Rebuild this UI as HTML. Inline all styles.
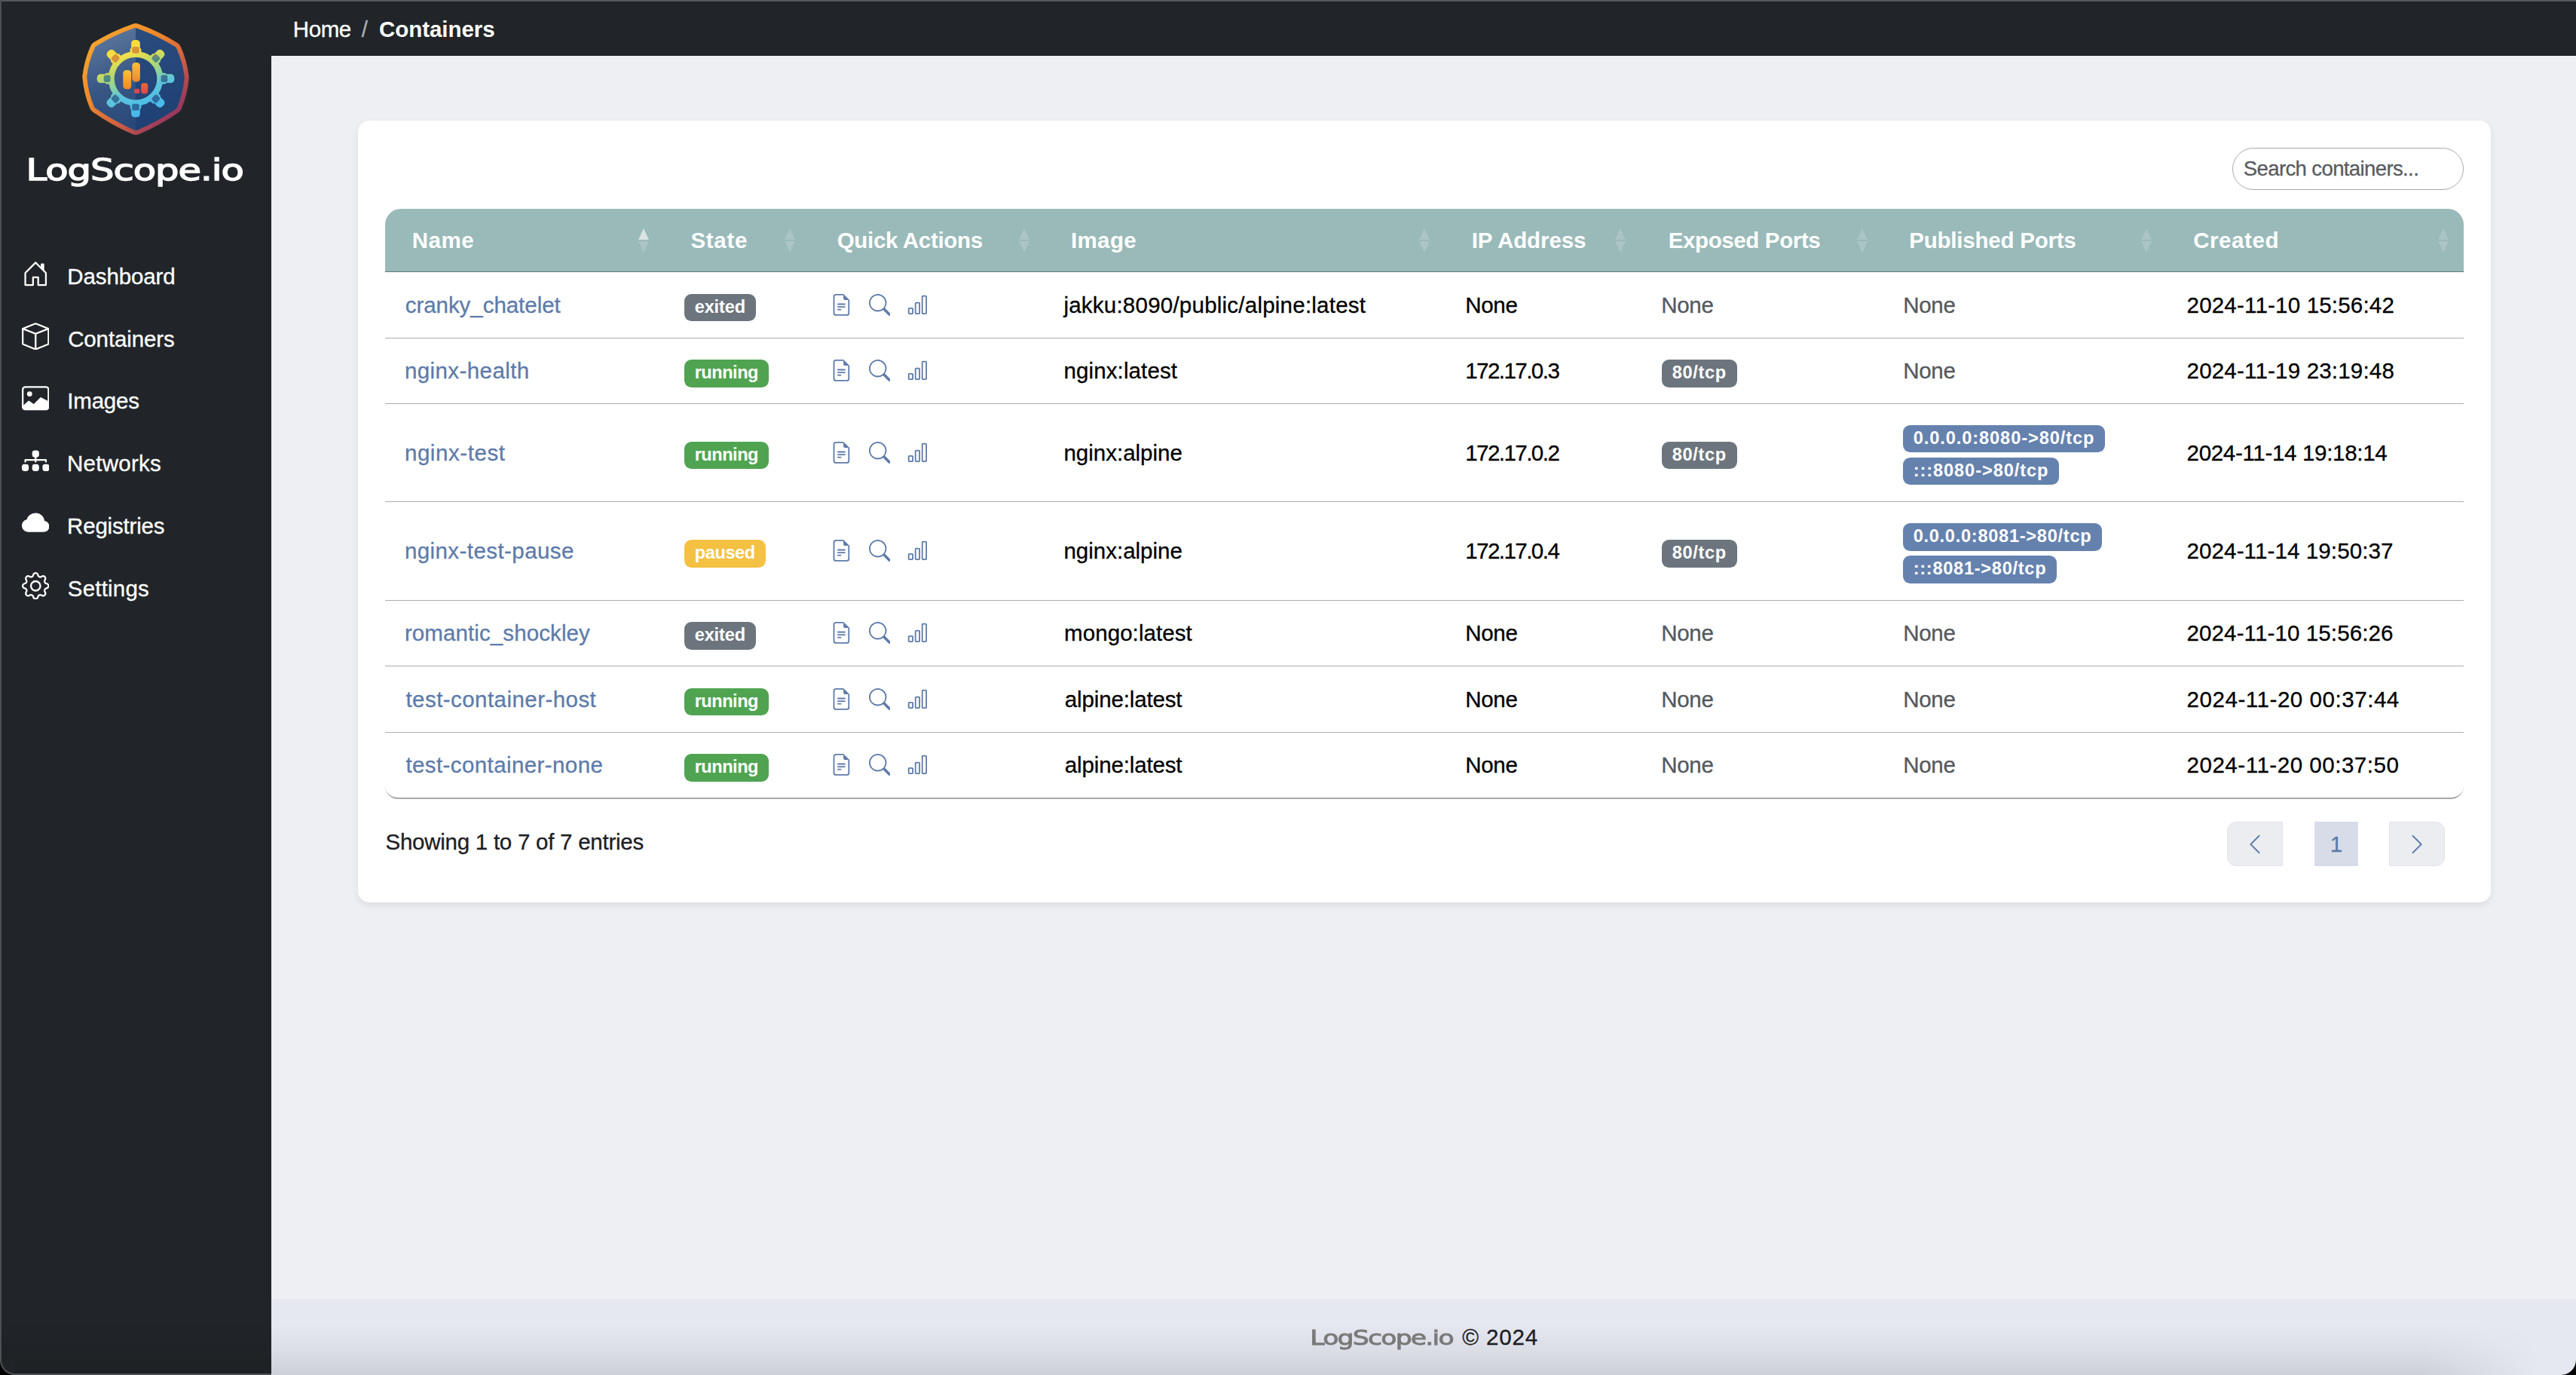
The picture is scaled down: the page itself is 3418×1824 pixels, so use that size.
<!DOCTYPE html>
<html lang="en">
<head>
<meta charset="utf-8">
<title>LogScope.io - Containers</title>
<style>
*{box-sizing:border-box;margin:0;padding:0}
html,body{width:3418px;height:1824px;overflow:hidden}
body{position:relative;background:#eeeff3;font-family:"Liberation Sans",sans-serif;font-size:29.5px;color:#000;-webkit-text-stroke-width:.3px}
a{text-decoration:none;color:inherit}
.abs{position:absolute}
#wintop{left:0;top:0;width:3418px;height:2px;background:#56585c;z-index:50}
#winleft{left:0;top:0;width:2px;height:1824px;background:#4d5054;z-index:50}
#sidebar{left:0;top:0;width:360px;height:1824px;background:#212529}
#brand{left:0;top:201px;width:360px;text-align:center;color:#fff;font-family:"DejaVu Sans","Liberation Sans",sans-serif;font-weight:normal;-webkit-text-stroke:1.35px #fff;font-size:38.8px;line-height:50px;white-space:nowrap}
.nav a{position:absolute;left:0;width:360px;height:60px;color:#fff;line-height:60px;white-space:nowrap}
.nav a svg{position:absolute;left:28.5px;top:12.3px;width:36.5px;height:36.5px;fill:#fff}
.nav a span{position:absolute;left:89.5px;top:4.3px}
#topbar{left:360px;top:0;width:3058px;height:74px;background:#212529;border-bottom:1px solid #16181b}
#crumbs{left:389px;top:20.8px;height:36px;line-height:36px;color:#fff;white-space:nowrap}
#crumbs .sep{color:#a9afb7;padding:0 14px}
#crumbs b{font-weight:bold}
#card{left:475px;top:160px;width:2830px;height:1037px;background:#fff;border-radius:15px;box-shadow:0 4px 10px rgba(0,0,0,.075)}
#search{left:2962px;top:196px;width:307px;height:56px;border:1.5px solid #a9a9a9;border-radius:28px;background:#fff;padding:0 0 0 15px;line-height:53px;font-size:27.5px;color:#595c5f;white-space:nowrap}
#tbl{left:511px;top:277px;width:2758px;border-collapse:separate;border-spacing:0;table-layout:fixed}
#tbl th{height:84px;background:#99bab9;color:#fff;font-weight:bold;text-align:left;padding:0 0 0 36px;position:relative;border-bottom:1px solid #5d7a78;white-space:nowrap}
#tbl th:first-child{border-top-left-radius:21px}
#tbl th:last-child{border-top-right-radius:21px}
#tbl td{height:88px;padding:0 0 0 27px;border-bottom:1px solid #adadad;vertical-align:middle;white-space:nowrap}
#tbl tr.r2 td{height:87px}#tbl tr.r3 td{height:130px}#tbl tr.r4 td{height:131px}#tbl tr.r5 td{height:87px}
#tbl tr:last-child td{border-bottom:2px solid #a8a8a8}
#tbl tr:last-child td:first-child{border-bottom-left-radius:17px}
#tbl tr:last-child td:last-child{border-bottom-right-radius:17px}
.sort{position:absolute;right:19.5px;top:25px;width:15px;height:34px}
.sort i{position:absolute;left:0;width:0;height:0;border-left:7.5px solid transparent;border-right:7.5px solid transparent}
.sort .up{top:1px;border-bottom:15px solid rgba(255,255,255,.17)}
.sort .dn{top:17.5px;border-top:15px solid rgba(255,255,255,.17)}
.sort .up.on{border-bottom-color:rgba(255,255,255,.62)}
a.lnk{color:#5e7ba9}
.muted{color:#55595d}
.bdg{display:inline-block;position:relative;top:3px;height:36.4px;line-height:35.6px;padding:0 13.65px;border-radius:9.5px;color:#fff;font-weight:bold;font-size:23.6px;vertical-align:middle}
.b-sec{background:#6c757d}
.b-run{background:#50a451}
.b-pau{background:#f5c142}
.b-pri{background:#6582ae}
.pp .bdg{display:block;width:max-content;margin:0 0 6.6px 0}
.pp .bdg:last-child{margin-bottom:0}
.qa svg{width:28.8px;height:28.8px;fill:#5e7ba9;margin-right:21.8px;vertical-align:middle;position:relative;top:-2.6px}
#info{left:511px;top:1097px;line-height:40px;color:#1d2024;white-space:nowrap}
.pg{top:1090px;height:59px;background:#ecedf1;border:1px solid #e2e4ea}
.pg svg{position:absolute;left:50%;top:50%;width:30px;height:30px;margin:-15px 0 0 -15px;fill:#5e7ba9}
#pprev{left:2955px;width:74px;border-radius:12px 0 0 12px}
#pcur{left:3071px;width:58px;background:#d8dce9;border:none;color:#5e7ba9;text-align:center;line-height:59px}
#pnext{left:3170px;width:74px;border-radius:0 12px 12px 0}
#footer{left:360px;top:1723px;width:3058px;height:101px;background:#e5e8f0}
#foot{left:360px;top:1754px;width:3058px;text-align:center;line-height:40px;color:#1d2024;white-space:nowrap}
#foot .b{font-family:"DejaVu Sans","Liberation Sans",sans-serif;font-weight:normal;-webkit-text-stroke:.9px #7d7d7d;color:#7d7d7d;font-size:27px}
#botshadow{left:0;top:1756px;width:3418px;height:68px;background:linear-gradient(to bottom,rgba(0,0,0,0) 0,rgba(0,0,0,.035) 45%,rgba(0,0,0,.1) 100%);-webkit-mask-image:linear-gradient(to right,#000 0,#000 94%,transparent 98.5%);mask-image:linear-gradient(to right,#000 0,#000 94%,transparent 98.5%);z-index:40}
#winbot{left:0;top:1822px;width:360px;height:2px;background:#4d5054;z-index:50}
#corner-bl{left:0;top:1804px;width:20px;height:20px;background:radial-gradient(circle at 100% 0,#202327 0,#202327 17.6px,#4d5054 18.4px,#4d5054 19.6px,#000 20.4px);z-index:60}
#corner-br{left:3398px;top:1804px;width:20px;height:20px;background:radial-gradient(circle at 0 0,rgba(0,0,0,0) 0,rgba(0,0,0,0) 19.4px,#000 20.4px);z-index:60}
#tbl td:nth-child(6) .bdg{margin-left:1px}
#tbl th,.bdg,#crumbs b{-webkit-text-stroke-width:0}
#brandt,#fbrand{display:inline-block;transform:scaleX(1.28);transform-origin:center}
</style>
</head>
<body>
<aside id="sidebar" class="abs"></aside>
<header id="topbar" class="abs"></header>
<div id="wintop" class="abs"></div>
<div id="winleft" class="abs"></div>
<svg id="logo" class="abs" style="left:100px;top:20px;width:160px;height:170px" viewBox="100 20 160 170">
<defs>
<linearGradient id="lgB" gradientUnits="userSpaceOnUse" x1="118" y1="45" x2="245" y2="170"><stop offset="0" stop-color="#f7a92f"/><stop offset=".35" stop-color="#ee8a2c"/><stop offset=".6" stop-color="#d4643f"/><stop offset=".85" stop-color="#9a3a5c"/><stop offset="1" stop-color="#7e3065"/></linearGradient>
<linearGradient id="lgF" gradientUnits="userSpaceOnUse" x1="180" y1="35" x2="215" y2="175"><stop offset="0" stop-color="#2a4d7e"/><stop offset="1" stop-color="#1e3f72"/></linearGradient>
<linearGradient id="lgL" gradientUnits="userSpaceOnUse" x1="125" y1="45" x2="175" y2="170"><stop offset="0" stop-color="#fff" stop-opacity=".24"/><stop offset=".5" stop-color="#fff" stop-opacity=".1"/><stop offset="1" stop-color="#fff" stop-opacity=".04"/></linearGradient>
<linearGradient id="lgG" gradientUnits="userSpaceOnUse" x1="161" y1="50" x2="199.5" y2="160"><stop offset="0" stop-color="#fad535"/><stop offset=".2" stop-color="#f4e048"/><stop offset=".35" stop-color="#bfd965"/><stop offset=".5" stop-color="#8fd29a"/><stop offset=".62" stop-color="#62c6da"/><stop offset=".8" stop-color="#4dbde6"/><stop offset="1" stop-color="#44b4f0"/></linearGradient>
<linearGradient id="lgI" gradientUnits="userSpaceOnUse" x1="161" y1="50" x2="199.5" y2="160"><stop offset="0" stop-color="#dc9436"/><stop offset=".22" stop-color="#d8923a"/><stop offset=".31" stop-color="#6f8c70"/><stop offset=".38" stop-color="#4f8a84"/><stop offset=".6" stop-color="#3a7398"/><stop offset=".8" stop-color="#2d6a9e"/><stop offset="1" stop-color="#2a66a0"/></linearGradient>
<linearGradient id="lgO" x1="0" y1="0" x2="0" y2="1"><stop offset="0" stop-color="#fac038"/><stop offset="1" stop-color="#f0872a"/></linearGradient>
<linearGradient id="lgR" x1="0" y1="0" x2="0" y2="1"><stop offset="0" stop-color="#ea6a38"/><stop offset="1" stop-color="#d8464e"/></linearGradient>
<mask id="mIn" maskUnits="userSpaceOnUse" x="100" y="20" width="160" height="170"><path d="M180.0 42.1Q206.2 51.5 229.7 66.3Q237.6 83.6 239.8 102.9Q238.0 122.4 230.6 140.3Q206.8 156.8 180.3 167.9Q153.5 156.3 129.4 139.4Q122.0 121.5 120.3 102.0Q122.5 82.7 130.3 65.5Q153.8 51.1 180.0 42.1Z" fill="#fff" stroke="#fff" stroke-width="10" stroke-linejoin="round"/></mask>
<mask id="mG" maskUnits="userSpaceOnUse" x="100" y="20" width="160" height="170"><g fill="#fff"><circle cx="180.0" cy="104.2" r="32.3" fill="none" stroke="#fff" stroke-width="8"/><g transform="rotate(0 180.0 104.2)"><rect x="174.15" y="52.90" width="11.7" height="19" rx="4.6"/><rect x="172.60" y="63.70" width="14.8" height="7" rx="2"/></g><g transform="rotate(45 180.0 104.2)"><rect x="174.15" y="52.90" width="11.7" height="19" rx="4.6"/><rect x="172.60" y="63.70" width="14.8" height="7" rx="2"/></g><g transform="rotate(90 180.0 104.2)"><rect x="174.15" y="52.90" width="11.7" height="19" rx="4.6"/><rect x="172.60" y="63.70" width="14.8" height="7" rx="2"/></g><g transform="rotate(135 180.0 104.2)"><rect x="174.15" y="52.90" width="11.7" height="19" rx="4.6"/><rect x="172.60" y="63.70" width="14.8" height="7" rx="2"/></g><g transform="rotate(180 180.0 104.2)"><rect x="174.15" y="52.90" width="11.7" height="19" rx="4.6"/><rect x="172.60" y="63.70" width="14.8" height="7" rx="2"/></g><g transform="rotate(225 180.0 104.2)"><rect x="174.15" y="52.90" width="11.7" height="19" rx="4.6"/><rect x="172.60" y="63.70" width="14.8" height="7" rx="2"/></g><g transform="rotate(270 180.0 104.2)"><rect x="174.15" y="52.90" width="11.7" height="19" rx="4.6"/><rect x="172.60" y="63.70" width="14.8" height="7" rx="2"/></g><g transform="rotate(315 180.0 104.2)"><rect x="174.15" y="52.90" width="11.7" height="19" rx="4.6"/><rect x="172.60" y="63.70" width="14.8" height="7" rx="2"/></g></g></mask>
<mask id="mI" maskUnits="userSpaceOnUse" x="100" y="20" width="160" height="170"><g fill="#fff"><rect transform="rotate(0 180.0 104.2)" x="175.25" y="61.90" width="9.5" height="8.8" rx="2.6"/><rect transform="rotate(45 180.0 104.2)" x="175.25" y="61.90" width="9.5" height="8.8" rx="2.6"/><rect transform="rotate(90 180.0 104.2)" x="175.25" y="61.90" width="9.5" height="8.8" rx="2.6"/><rect transform="rotate(135 180.0 104.2)" x="175.25" y="61.90" width="9.5" height="8.8" rx="2.6"/><rect transform="rotate(180 180.0 104.2)" x="175.25" y="61.90" width="9.5" height="8.8" rx="2.6"/><rect transform="rotate(225 180.0 104.2)" x="175.25" y="61.90" width="9.5" height="8.8" rx="2.6"/><rect transform="rotate(270 180.0 104.2)" x="175.25" y="61.90" width="9.5" height="8.8" rx="2.6"/><rect transform="rotate(315 180.0 104.2)" x="175.25" y="61.90" width="9.5" height="8.8" rx="2.6"/></g></mask>
</defs>
<path d="M180.0 42.1Q206.2 51.5 229.7 66.3Q237.6 83.6 239.8 102.9Q238.0 122.4 230.6 140.3Q206.8 156.8 180.3 167.9Q153.5 156.3 129.4 139.4Q122.0 121.5 120.3 102.0Q122.5 82.7 130.3 65.5Q153.8 51.1 180.0 42.1Z" fill="url(#lgB)" stroke="url(#lgB)" stroke-width="22" stroke-linejoin="round"/>
<path d="M180.0 42.1Q206.2 51.5 229.7 66.3Q237.6 83.6 239.8 102.9Q238.0 122.4 230.6 140.3Q206.8 156.8 180.3 167.9Q153.5 156.3 129.4 139.4Q122.0 121.5 120.3 102.0Q122.5 82.7 130.3 65.5Q153.8 51.1 180.0 42.1Z" fill="url(#lgF)" stroke="url(#lgF)" stroke-width="10" stroke-linejoin="round"/>
<path d="M100 20H180V190H100z" fill="url(#lgL)" mask="url(#mIn)"/>
<rect x="100" y="20" width="160" height="170" fill="url(#lgG)" mask="url(#mG)"/>
<rect x="100" y="20" width="160" height="170" fill="url(#lgI)" mask="url(#mI)"/>
<rect x="163.3" y="92.9" width="10.9" height="25.4" rx="4.2" fill="url(#lgO)"/>
<rect x="175.4" y="83.1" width="10.5" height="25.3" rx="4.2" fill="url(#lgO)"/>
<rect x="187.2" y="110.3" width="9" height="14.2" rx="3.4" fill="url(#lgR)"/>
<rect x="178.1" y="117.7" width="7.2" height="6.2" rx="1.8" fill="#d9474e"/>
</svg>
<div id="brand" class="abs"><span id="brandt" style="letter-spacing:-0.820px;margin-left:-2.88px">LogScope.io</span></div>
<nav class="nav">
<a style="top:332.40px"><svg viewBox="0 0 16 16"><path d="M8.354 1.146a.5.5 0 0 0-.708 0l-6 6A.5.5 0 0 0 1.500 7.500v7a.5.5 0 0 0 .5.5h4.500a.5.5 0 0 0 .5-.5v-4h2v4a.5.5 0 0 0 .5.5H14a.5.5 0 0 0 .5-.5v-7a.5.5 0 0 0-.146-.354L13 5.793V2.500a.5.5 0 0 0-.5-.5h-1a.5.5 0 0 0-.5.5v1.293L8.354 1.146zM2.500 14V7.707l5.500-5.500 5.500 5.500V14H10v-4a.5.5 0 0 0-.5-.5h-3a.5.5 0 0 0-.5.5v4H2.500z"/></svg><span id="nav0" style="letter-spacing:-0.125px;margin-left:-0.16px">Dashboard</span></a>
<a style="top:415.25px"><svg viewBox="0 0 16 16"><path d="M8.186 1.113a.5.5 0 0 0-.372 0L1.846 3.500 8 5.961 14.154 3.500 8.186 1.113zM15 4.239l-6.500 2.600v7.922l6.500-2.600V4.240zM7.500 14.762V6.838L1 4.239v7.923l6.500 2.600zM7.443.184a1.500 1.500 0 0 1 1.114 0l7.129 2.852A.5.5 0 0 1 16 3.500v8.662a1 1 0 0 1-.629.928l-7.185 2.874a.5.5 0 0 1-.372 0L.630 13.090a1 1 0 0 1-.630-.928V3.500a.5.5 0 0 1 .314-.464L7.443.184z"/></svg><span id="nav1" style="letter-spacing:-0.111px;margin-left:0.64px">Containers</span></a>
<a style="top:498.10px"><svg viewBox="0 0 16 16"><path d="M6.002 5.500a1.500 1.500 0 1 1-3 0 1.500 1.500 0 0 1 3 0z"/><path d="M2.002 1a2 2 0 0 0-2 2v10a2 2 0 0 0 2 2h12a2 2 0 0 0 2-2V3a2 2 0 0 0-2-2h-12zm12 1a1 1 0 0 1 1 1v6.500l-3.777-1.947a.5.5 0 0 0-.577.093l-3.710 3.710-2.660-1.772a.5.5 0 0 0-.630.062L1.002 12V3a1 1 0 0 1 1-1h12z"/></svg><span id="nav2" style="letter-spacing:-0.240px;margin-left:-0.16px">Images</span></a>
<a style="top:580.95px"><svg viewBox="0 0 16 16"><path fill-rule="evenodd" d="M6 3.500A1.500 1.500 0 0 1 7.500 2h1A1.500 1.500 0 0 1 10 3.500v1A1.500 1.500 0 0 1 8.500 6v1H14a.5.5 0 0 1 .5.5v1a.5.5 0 0 1-1 0V8h-5v.5a.5.5 0 0 1-1 0V8h-5v.5a.5.5 0 0 1-1 0v-1A.5.5 0 0 1 2 7h5.500V6A1.500 1.500 0 0 1 6 4.500v-1zm-6 8A1.500 1.500 0 0 1 1.500 10h1A1.500 1.500 0 0 1 4 11.500v1A1.500 1.500 0 0 1 2.500 14h-1A1.500 1.500 0 0 1 0 12.500v-1zm6 0A1.500 1.500 0 0 1 7.500 10h1a1.500 1.500 0 0 1 1.500 1.500v1A1.500 1.500 0 0 1 8.500 14h-1A1.500 1.500 0 0 1 6 12.500v-1zm6 0a1.500 1.500 0 0 1 1.500-1.500h1a1.500 1.500 0 0 1 1.500 1.500v1a1.500 1.500 0 0 1-1.500 1.500h-1a1.500 1.500 0 0 1-1.500-1.500v-1z"/></svg><span id="nav3" style="letter-spacing:0.257px;margin-left:-0.48px">Networks</span></a>
<a style="top:663.80px"><svg viewBox="0 0 16 16"><path d="M4.406 3.342A5.530 5.530 0 0 1 8 2c2.690 0 4.923 2 5.166 4.579C14.758 6.804 16 8.137 16 9.773 16 11.569 14.502 13 12.687 13H3.781C1.708 13 0 11.366 0 9.318c0-1.763 1.266-3.223 2.942-3.593.143-.863.698-1.723 1.464-2.383z"/></svg><span id="nav4" style="letter-spacing:-0.178px;margin-left:-0.48px">Registries</span></a>
<a style="top:746.65px"><svg viewBox="0 0 16 16"><path d="M8 4.754a3.246 3.246 0 1 0 0 6.492 3.246 3.246 0 0 0 0-6.492zM5.754 8a2.246 2.246 0 1 1 4.492 0 2.246 2.246 0 0 1-4.492 0z"/><path d="M9.796 1.343c-.527-1.790-3.065-1.790-3.592 0l-.094.319a.873.873 0 0 1-1.255.520l-.292-.160c-1.640-.892-3.433.902-2.540 2.541l.159.292a.873.873 0 0 1-.520 1.255l-.319.094c-1.790.527-1.790 3.065 0 3.592l.319.094a.873.873 0 0 1 .520 1.255l-.160.292c-.892 1.640.901 3.434 2.541 2.540l.292-.159a.873.873 0 0 1 1.255.520l.094.319c.527 1.790 3.065 1.790 3.592 0l.094-.319a.873.873 0 0 1 1.255-.520l.292.160c1.640.893 3.434-.902 2.540-2.541l-.159-.292a.873.873 0 0 1 .520-1.255l.319-.094c1.790-.527 1.790-3.065 0-3.592l-.319-.094a.873.873 0 0 1-.520-1.255l.160-.292c.893-1.640-.902-3.433-2.541-2.540l-.292.159a.873.873 0 0 1-1.255-.520l-.094-.319zm-2.633.283c.246-.835 1.428-.835 1.674 0l.094.319a1.873 1.873 0 0 0 2.693 1.115l.291-.160c.764-.415 1.600.420 1.184 1.185l-.159.292a1.873 1.873 0 0 0 1.116 2.692l.318.094c.835.246.835 1.428 0 1.674l-.319.094a1.873 1.873 0 0 0-1.115 2.693l.160.291c.415.764-.420 1.600-1.185 1.184l-.291-.159a1.873 1.873 0 0 0-2.693 1.116l-.094.318c-.246.835-1.428.835-1.674 0l-.094-.319a1.873 1.873 0 0 0-2.692-1.115l-.292.160c-.764.415-1.600-.420-1.184-1.185l.159-.291A1.873 1.873 0 0 0 1.945 8.930l-.319-.094c-.835-.246-.835-1.428 0-1.674l.319-.094A1.873 1.873 0 0 0 3.060 4.377l-.160-.292c-.415-.764.420-1.600 1.185-1.184l.292.159a1.873 1.873 0 0 0 2.692-1.115l.094-.319z"/></svg><span id="nav5" style="letter-spacing:0.200px;margin-left:0.32px">Settings</span></a>
</nav>
<div id="crumbs" class="abs"><a><span id="c_home" style="letter-spacing:-0.400px;margin-left:-0.24px">Home</span></a><span class="sep">/</span><b><span id="c_cur" style="letter-spacing:-0.067px;margin-left:1.04px">Containers</span></b></div>
<main id="card" class="abs"></main>
<div id="search" class="abs"><span id="srch" style="letter-spacing:-0.611px;margin-left:-1.20px">Search containers...</span></div>
<table id="tbl" class="abs">
<colgroup><col style="width:370px"><col style="width:194px"><col style="width:311px"><col style="width:531px"><col style="width:260px"><col style="width:321px"><col style="width:377px"><col style="width:394px"></colgroup>
<thead><tr><th><span id="h0" style="letter-spacing:0.467px;margin-left:-0.16px">Name</span><span class="sort"><i class="up on"></i><i class="dn"></i></span></th><th><span id="h1" style="letter-spacing:0.700px;margin-left:-0.56px">State</span><span class="sort"><i class="up"></i><i class="dn"></i></span></th><th><span id="h2" style="letter-spacing:-0.317px;margin-left:-0.32px">Quick Actions</span><span class="sort"><i class="up"></i><i class="dn"></i></span></th><th><span id="h3" style="letter-spacing:0.400px;margin-left:-1.12px">Image</span><span class="sort"><i class="up"></i><i class="dn"></i></span></th><th><span id="h4" style="letter-spacing:-0.089px;margin-left:-0.24px">IP Address</span><span class="sort"><i class="up"></i><i class="dn"></i></span></th><th><span id="h5" style="letter-spacing:-0.367px;margin-left:0.64px">Exposed Ports</span><span class="sort"><i class="up"></i><i class="dn"></i></span></th><th><span id="h6" style="letter-spacing:-0.214px;margin-left:-0.80px">Published Ports</span><span class="sort"><i class="up"></i><i class="dn"></i></span></th><th><span id="h7" style="letter-spacing:0.567px;margin-left:-0.80px">Created</span><span class="sort"><i class="up"></i><i class="dn"></i></span></th></tr></thead>
<tbody>
<tr class="r1"><td><a class="lnk"><span id="n0" style="letter-spacing:-0.043px;margin-left:-0.32px">cranky_chatelet</span></a></td><td><span class="bdg b-sec" style="letter-spacing:-0.131px">exited</span></td><td class="qa"><a><svg viewBox="0 0 16 16"><path d="M5.500 7a.5.5 0 0 0 0 1h5a.5.5 0 0 0 0-1h-5zM5 9.500a.5.5 0 0 1 .5-.5h5a.5.5 0 0 1 0 1h-5a.5.5 0 0 1-.5-.5zm0 2a.5.5 0 0 1 .5-.5h2a.5.5 0 0 1 0 1h-2a.5.5 0 0 1-.5-.5z"/><path d="M9.500 0H4a2 2 0 0 0-2 2v12a2 2 0 0 0 2 2h8a2 2 0 0 0 2-2V4.500L9.500 0zm0 1v2A1.500 1.500 0 0 0 11 4.500h2V14a1 1 0 0 1-1 1H4a1 1 0 0 1-1-1V2a1 1 0 0 1 1-1h5.500z"/></svg></a><a><svg viewBox="0 0 16 16"><path d="M11.742 10.344a6.500 6.500 0 1 0-1.397 1.398h-.001c.030.040.062.078.098.115l3.850 3.850a1 1 0 0 0 1.415-1.414l-3.850-3.850a1.007 1.007 0 0 0-.115-.100zM12 6.500a5.500 5.500 0 1 1-11 0 5.500 5.500 0 0 1 11 0z"/></svg></a><a><svg viewBox="0 0 16 16"><path d="M4 11H2v3h2v-3zm5-4H7v7h2V7zm5-5v12h-2V2h2zm-2-1a1 1 0 0 0-1 1v12a1 1 0 0 0 1 1h2a1 1 0 0 0 1-1V2a1 1 0 0 0-1-1h-2zM6 7a1 1 0 0 1 1-1h2a1 1 0 0 1 1 1v7a1 1 0 0 1-1 1H7a1 1 0 0 1-1-1V7zm-5 4a1 1 0 0 1 1-1h2a1 1 0 0 1 1 1v3a1 1 0 0 1-1 1H2a1 1 0 0 1-1-1v-3z"/></svg></a></td><td><span id="im0" style="letter-spacing:0.233px;margin-left:-1.60px">jakku:8090/public/alpine:latest</span></td><td><span id="ip0" style="letter-spacing:-0.267px;margin-left:0.16px">None</span></td><td><span class="muted" style="letter-spacing:-0.267px;margin-left:0.16px">None</span></td><td><span class="muted" style="letter-spacing:-0.267px;margin-left:0.16px">None</span></td><td><span id="dt0" style="letter-spacing:0.200px;margin-left:-0.48px">2024-11-10 15:56:42</span></td></tr>
<tr class="r2"><td><a class="lnk"><span id="n1" style="letter-spacing:0.418px;margin-left:-1.12px">nginx-health</span></a></td><td><span class="bdg b-run" style="letter-spacing:-0.485px">running</span></td><td class="qa"><a><svg viewBox="0 0 16 16"><path d="M5.500 7a.5.5 0 0 0 0 1h5a.5.5 0 0 0 0-1h-5zM5 9.500a.5.5 0 0 1 .5-.5h5a.5.5 0 0 1 0 1h-5a.5.5 0 0 1-.5-.5zm0 2a.5.5 0 0 1 .5-.5h2a.5.5 0 0 1 0 1h-2a.5.5 0 0 1-.5-.5z"/><path d="M9.500 0H4a2 2 0 0 0-2 2v12a2 2 0 0 0 2 2h8a2 2 0 0 0 2-2V4.500L9.500 0zm0 1v2A1.500 1.500 0 0 0 11 4.500h2V14a1 1 0 0 1-1 1H4a1 1 0 0 1-1-1V2a1 1 0 0 1 1-1h5.500z"/></svg></a><a><svg viewBox="0 0 16 16"><path d="M11.742 10.344a6.500 6.500 0 1 0-1.397 1.398h-.001c.030.040.062.078.098.115l3.850 3.850a1 1 0 0 0 1.415-1.414l-3.850-3.850a1.007 1.007 0 0 0-.115-.100zM12 6.500a5.500 5.500 0 1 1-11 0 5.500 5.500 0 0 1 11 0z"/></svg></a><a><svg viewBox="0 0 16 16"><path d="M4 11H2v3h2v-3zm5-4H7v7h2V7zm5-5v12h-2V2h2zm-2-1a1 1 0 0 0-1 1v12a1 1 0 0 0 1 1h2a1 1 0 0 0 1-1V2a1 1 0 0 0-1-1h-2zM6 7a1 1 0 0 1 1-1h2a1 1 0 0 1 1 1v7a1 1 0 0 1-1 1H7a1 1 0 0 1-1-1V7zm-5 4a1 1 0 0 1 1-1h2a1 1 0 0 1 1 1v3a1 1 0 0 1-1 1H2a1 1 0 0 1-1-1v-3z"/></svg></a></td><td><span id="im1" style="letter-spacing:0.127px;margin-left:-1.60px">nginx:latest</span></td><td><span id="ip1" style="letter-spacing:-1.533px;margin-left:0.16px">172.17.0.3</span></td><td><span class="bdg b-sec" style="letter-spacing:0.689px">80/tcp</span></td><td><span class="muted" style="letter-spacing:-0.267px;margin-left:0.16px">None</span></td><td><span id="dt1" style="letter-spacing:0.200px;margin-left:-0.48px">2024-11-19 23:19:48</span></td></tr>
<tr class="r3"><td><a class="lnk"><span id="n2" style="letter-spacing:0.578px;margin-left:-1.12px">nginx-test</span></a></td><td><span class="bdg b-run" style="letter-spacing:-0.485px">running</span></td><td class="qa"><a><svg viewBox="0 0 16 16"><path d="M5.500 7a.5.5 0 0 0 0 1h5a.5.5 0 0 0 0-1h-5zM5 9.500a.5.5 0 0 1 .5-.5h5a.5.5 0 0 1 0 1h-5a.5.5 0 0 1-.5-.5zm0 2a.5.5 0 0 1 .5-.5h2a.5.5 0 0 1 0 1h-2a.5.5 0 0 1-.5-.5z"/><path d="M9.500 0H4a2 2 0 0 0-2 2v12a2 2 0 0 0 2 2h8a2 2 0 0 0 2-2V4.500L9.500 0zm0 1v2A1.500 1.500 0 0 0 11 4.500h2V14a1 1 0 0 1-1 1H4a1 1 0 0 1-1-1V2a1 1 0 0 1 1-1h5.500z"/></svg></a><a><svg viewBox="0 0 16 16"><path d="M11.742 10.344a6.500 6.500 0 1 0-1.397 1.398h-.001c.030.040.062.078.098.115l3.850 3.850a1 1 0 0 0 1.415-1.414l-3.850-3.850a1.007 1.007 0 0 0-.115-.100zM12 6.500a5.500 5.500 0 1 1-11 0 5.500 5.500 0 0 1 11 0z"/></svg></a><a><svg viewBox="0 0 16 16"><path d="M4 11H2v3h2v-3zm5-4H7v7h2V7zm5-5v12h-2V2h2zm-2-1a1 1 0 0 0-1 1v12a1 1 0 0 0 1 1h2a1 1 0 0 0 1-1V2a1 1 0 0 0-1-1h-2zM6 7a1 1 0 0 1 1-1h2a1 1 0 0 1 1 1v7a1 1 0 0 1-1 1H7a1 1 0 0 1-1-1V7zm-5 4a1 1 0 0 1 1-1h2a1 1 0 0 1 1 1v3a1 1 0 0 1-1 1H2a1 1 0 0 1-1-1v-3z"/></svg></a></td><td><span id="im2" style="margin-left:-1.60px">nginx:alpine</span></td><td><span id="ip2" style="letter-spacing:-1.533px;margin-left:0.16px">172.17.0.2</span></td><td><span class="bdg b-sec" style="letter-spacing:0.689px">80/tcp</span></td><td class="pp"><span class="bdg b-pri" id="pp2_0" style="letter-spacing:0.920px">0.0.0.0:8080-&gt;80/tcp</span><span class="bdg b-pri" id="pp2_1" style="letter-spacing:0.922px">:::8080-&gt;80/tcp</span></td><td><span id="dt2" style="letter-spacing:-0.311px;margin-left:-0.48px">2024-11-14 19:18:14</span></td></tr>
<tr class="r4"><td><a class="lnk"><span id="n3" style="letter-spacing:0.427px;margin-left:-1.12px">nginx-test-pause</span></a></td><td><span class="bdg b-pau" style="letter-spacing:-0.398px">paused</span></td><td class="qa"><a><svg viewBox="0 0 16 16"><path d="M5.500 7a.5.5 0 0 0 0 1h5a.5.5 0 0 0 0-1h-5zM5 9.500a.5.5 0 0 1 .5-.5h5a.5.5 0 0 1 0 1h-5a.5.5 0 0 1-.5-.5zm0 2a.5.5 0 0 1 .5-.5h2a.5.5 0 0 1 0 1h-2a.5.5 0 0 1-.5-.5z"/><path d="M9.500 0H4a2 2 0 0 0-2 2v12a2 2 0 0 0 2 2h8a2 2 0 0 0 2-2V4.500L9.500 0zm0 1v2A1.500 1.500 0 0 0 11 4.500h2V14a1 1 0 0 1-1 1H4a1 1 0 0 1-1-1V2a1 1 0 0 1 1-1h5.500z"/></svg></a><a><svg viewBox="0 0 16 16"><path d="M11.742 10.344a6.500 6.500 0 1 0-1.397 1.398h-.001c.030.040.062.078.098.115l3.850 3.850a1 1 0 0 0 1.415-1.414l-3.850-3.850a1.007 1.007 0 0 0-.115-.100zM12 6.500a5.500 5.500 0 1 1-11 0 5.500 5.500 0 0 1 11 0z"/></svg></a><a><svg viewBox="0 0 16 16"><path d="M4 11H2v3h2v-3zm5-4H7v7h2V7zm5-5v12h-2V2h2zm-2-1a1 1 0 0 0-1 1v12a1 1 0 0 0 1 1h2a1 1 0 0 0 1-1V2a1 1 0 0 0-1-1h-2zM6 7a1 1 0 0 1 1-1h2a1 1 0 0 1 1 1v7a1 1 0 0 1-1 1H7a1 1 0 0 1-1-1V7zm-5 4a1 1 0 0 1 1-1h2a1 1 0 0 1 1 1v3a1 1 0 0 1-1 1H2a1 1 0 0 1-1-1v-3z"/></svg></a></td><td><span id="im3" style="margin-left:-1.60px">nginx:alpine</span></td><td><span id="ip3" style="letter-spacing:-1.533px;margin-left:0.16px">172.17.0.4</span></td><td><span class="bdg b-sec" style="letter-spacing:0.689px">80/tcp</span></td><td class="pp"><span class="bdg b-pri" id="pp3_0" style="letter-spacing:0.720px">0.0.0.0:8081-&gt;80/tcp</span><span class="bdg b-pri" id="pp3_1" style="letter-spacing:0.722px">:::8081-&gt;80/tcp</span></td><td><span id="dt3" style="letter-spacing:0.122px;margin-left:-0.48px">2024-11-14 19:50:37</span></td></tr>
<tr class="r5"><td><a class="lnk"><span id="n4" style="letter-spacing:0.100px;margin-left:-1.12px">romantic_shockley</span></a></td><td><span class="bdg b-sec" style="letter-spacing:-0.131px">exited</span></td><td class="qa"><a><svg viewBox="0 0 16 16"><path d="M5.500 7a.5.5 0 0 0 0 1h5a.5.5 0 0 0 0-1h-5zM5 9.500a.5.5 0 0 1 .5-.5h5a.5.5 0 0 1 0 1h-5a.5.5 0 0 1-.5-.5zm0 2a.5.5 0 0 1 .5-.5h2a.5.5 0 0 1 0 1h-2a.5.5 0 0 1-.5-.5z"/><path d="M9.500 0H4a2 2 0 0 0-2 2v12a2 2 0 0 0 2 2h8a2 2 0 0 0 2-2V4.500L9.500 0zm0 1v2A1.500 1.500 0 0 0 11 4.500h2V14a1 1 0 0 1-1 1H4a1 1 0 0 1-1-1V2a1 1 0 0 1 1-1h5.500z"/></svg></a><a><svg viewBox="0 0 16 16"><path d="M11.742 10.344a6.500 6.500 0 1 0-1.397 1.398h-.001c.030.040.062.078.098.115l3.850 3.850a1 1 0 0 0 1.415-1.414l-3.850-3.850a1.007 1.007 0 0 0-.115-.100zM12 6.500a5.500 5.500 0 1 1-11 0 5.500 5.500 0 0 1 11 0z"/></svg></a><a><svg viewBox="0 0 16 16"><path d="M4 11H2v3h2v-3zm5-4H7v7h2V7zm5-5v12h-2V2h2zm-2-1a1 1 0 0 0-1 1v12a1 1 0 0 0 1 1h2a1 1 0 0 0 1-1V2a1 1 0 0 0-1-1h-2zM6 7a1 1 0 0 1 1-1h2a1 1 0 0 1 1 1v7a1 1 0 0 1-1 1H7a1 1 0 0 1-1-1V7zm-5 4a1 1 0 0 1 1-1h2a1 1 0 0 1 1 1v3a1 1 0 0 1-1 1H2a1 1 0 0 1-1-1v-3z"/></svg></a></td><td><span id="im4" style="letter-spacing:0.073px;margin-left:-0.96px">mongo:latest</span></td><td><span id="ip4" style="letter-spacing:-0.267px;margin-left:0.16px">None</span></td><td><span class="muted" style="letter-spacing:-0.267px;margin-left:0.16px">None</span></td><td><span class="muted" style="letter-spacing:-0.267px;margin-left:0.16px">None</span></td><td><span id="dt4" style="letter-spacing:0.122px;margin-left:-0.48px">2024-11-10 15:56:26</span></td></tr>
<tr class="r6"><td><a class="lnk"><span id="n5" style="letter-spacing:0.444px;margin-left:0.48px">test-container-host</span></a></td><td><span class="bdg b-run" style="letter-spacing:-0.485px">running</span></td><td class="qa"><a><svg viewBox="0 0 16 16"><path d="M5.500 7a.5.5 0 0 0 0 1h5a.5.5 0 0 0 0-1h-5zM5 9.500a.5.5 0 0 1 .5-.5h5a.5.5 0 0 1 0 1h-5a.5.5 0 0 1-.5-.5zm0 2a.5.5 0 0 1 .5-.5h2a.5.5 0 0 1 0 1h-2a.5.5 0 0 1-.5-.5z"/><path d="M9.500 0H4a2 2 0 0 0-2 2v12a2 2 0 0 0 2 2h8a2 2 0 0 0 2-2V4.500L9.500 0zm0 1v2A1.500 1.500 0 0 0 11 4.500h2V14a1 1 0 0 1-1 1H4a1 1 0 0 1-1-1V2a1 1 0 0 1 1-1h5.500z"/></svg></a><a><svg viewBox="0 0 16 16"><path d="M11.742 10.344a6.500 6.500 0 1 0-1.397 1.398h-.001c.030.040.062.078.098.115l3.850 3.850a1 1 0 0 0 1.415-1.414l-3.850-3.850a1.007 1.007 0 0 0-.115-.100zM12 6.500a5.500 5.500 0 1 1-11 0 5.500 5.500 0 0 1 11 0z"/></svg></a><a><svg viewBox="0 0 16 16"><path d="M4 11H2v3h2v-3zm5-4H7v7h2V7zm5-5v12h-2V2h2zm-2-1a1 1 0 0 0-1 1v12a1 1 0 0 0 1 1h2a1 1 0 0 0 1-1V2a1 1 0 0 0-1-1h-2zM6 7a1 1 0 0 1 1-1h2a1 1 0 0 1 1 1v7a1 1 0 0 1-1 1H7a1 1 0 0 1-1-1V7zm-5 4a1 1 0 0 1 1-1h2a1 1 0 0 1 1 1v3a1 1 0 0 1-1 1H2a1 1 0 0 1-1-1v-3z"/></svg></a></td><td><span id="im5" style="letter-spacing:-0.150px;margin-left:-0.16px">alpine:latest</span></td><td><span id="ip5" style="letter-spacing:-0.267px;margin-left:0.16px">None</span></td><td><span class="muted" style="letter-spacing:-0.267px;margin-left:0.16px">None</span></td><td><span class="muted" style="letter-spacing:-0.267px;margin-left:0.16px">None</span></td><td><span id="dt5" style="letter-spacing:0.556px;margin-left:-0.48px">2024-11-20 00:37:44</span></td></tr>
<tr class="r7"><td><a class="lnk"><span id="n6" style="letter-spacing:0.400px;margin-left:0.48px">test-container-none</span></a></td><td><span class="bdg b-run" style="letter-spacing:-0.485px">running</span></td><td class="qa"><a><svg viewBox="0 0 16 16"><path d="M5.500 7a.5.5 0 0 0 0 1h5a.5.5 0 0 0 0-1h-5zM5 9.500a.5.5 0 0 1 .5-.5h5a.5.5 0 0 1 0 1h-5a.5.5 0 0 1-.5-.5zm0 2a.5.5 0 0 1 .5-.5h2a.5.5 0 0 1 0 1h-2a.5.5 0 0 1-.5-.5z"/><path d="M9.500 0H4a2 2 0 0 0-2 2v12a2 2 0 0 0 2 2h8a2 2 0 0 0 2-2V4.500L9.500 0zm0 1v2A1.500 1.500 0 0 0 11 4.500h2V14a1 1 0 0 1-1 1H4a1 1 0 0 1-1-1V2a1 1 0 0 1 1-1h5.500z"/></svg></a><a><svg viewBox="0 0 16 16"><path d="M11.742 10.344a6.500 6.500 0 1 0-1.397 1.398h-.001c.030.040.062.078.098.115l3.850 3.850a1 1 0 0 0 1.415-1.414l-3.850-3.850a1.007 1.007 0 0 0-.115-.100zM12 6.500a5.500 5.500 0 1 1-11 0 5.500 5.500 0 0 1 11 0z"/></svg></a><a><svg viewBox="0 0 16 16"><path d="M4 11H2v3h2v-3zm5-4H7v7h2V7zm5-5v12h-2V2h2zm-2-1a1 1 0 0 0-1 1v12a1 1 0 0 0 1 1h2a1 1 0 0 0 1-1V2a1 1 0 0 0-1-1h-2zM6 7a1 1 0 0 1 1-1h2a1 1 0 0 1 1 1v7a1 1 0 0 1-1 1H7a1 1 0 0 1-1-1V7zm-5 4a1 1 0 0 1 1-1h2a1 1 0 0 1 1 1v3a1 1 0 0 1-1 1H2a1 1 0 0 1-1-1v-3z"/></svg></a></td><td><span id="im6" style="letter-spacing:-0.150px;margin-left:-0.16px">alpine:latest</span></td><td><span id="ip6" style="letter-spacing:-0.267px;margin-left:0.16px">None</span></td><td><span class="muted" style="letter-spacing:-0.267px;margin-left:0.16px">None</span></td><td><span class="muted" style="letter-spacing:-0.267px;margin-left:0.16px">None</span></td><td><span id="dt6" style="letter-spacing:0.533px;margin-left:-0.48px">2024-11-20 00:37:50</span></td></tr>
</tbody></table>
<div id="info" class="abs"><span id="infot" style="letter-spacing:-0.254px;margin-left:0.48px">Showing 1 to 7 of 7 entries</span></div>
<div id="pprev" class="abs pg"><svg viewBox="0 0 16 16"><path fill-rule="evenodd" d="M11.354 1.646a.5.5 0 0 1 0 .708L5.707 8l5.647 5.646a.5.5 0 0 1-.708.708l-6-6a.5.5 0 0 1 0-.708l6-6a.5.5 0 0 1 .708 0z"/></svg></div>
<div id="pcur" class="abs pg">1</div>
<div id="pnext" class="abs pg"><svg viewBox="0 0 16 16"><path fill-rule="evenodd" d="M4.646 1.646a.5.5 0 0 1 .708 0l6 6a.5.5 0 0 1 0 .708l-6 6a.5.5 0 0 1-.708-.708L10.293 8 4.646 2.354a.5.5 0 0 1 0-.708z"/></svg></div>
<footer id="footer" class="abs"></footer>
<div id="foot" class="abs"><span id="fbrand" class="b" style="letter-spacing:-1.360px;margin-left:21.76px">LogScope.io</span> <span id="fyear" style="letter-spacing:0.880px;margin-left:25.28px">© 2024</span></div>
<div id="botshadow" class="abs"></div>
<div id="winbot" class="abs"></div>
<div id="corner-bl" class="abs"></div>
<div id="corner-br" class="abs"></div>
</body>
</html>
